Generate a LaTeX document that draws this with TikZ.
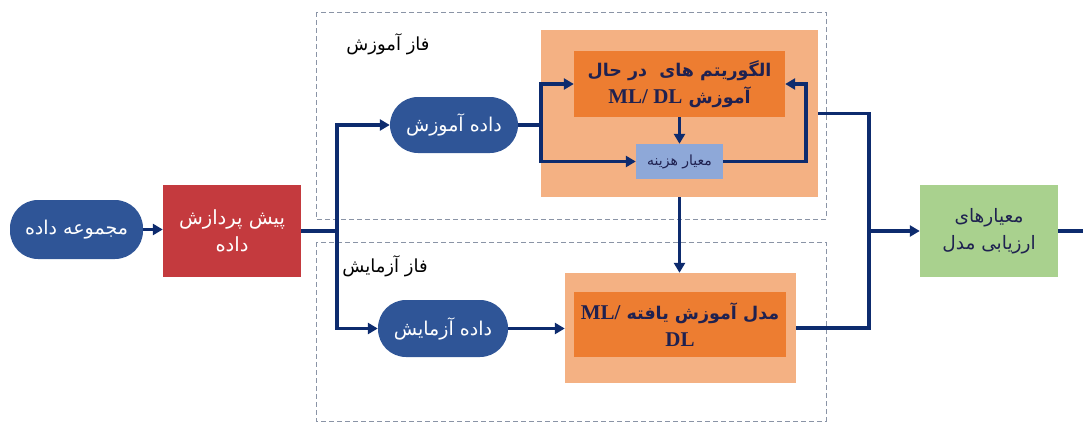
\documentclass[tikz,border=0pt]{standalone}
\usepackage{fontspec}
\usetikzlibrary{arrows.meta,calc}
\newfontfamily\fa[Script=Arabic]{DejaVu Sans}
\newfontfamily\ser{Liberation Serif}
\TeXXeTstate=1
\newcommand{\myR}[1]{\beginR #1\endR}
\newcommand{\myL}[1]{\beginL #1\endL}
\definecolor{navy}{HTML}{0D2B6E}
\definecolor{pillblue}{HTML}{2F5597}
\definecolor{boxred}{HTML}{C43A3E}
\definecolor{lorange}{HTML}{F4B183}
\definecolor{dorange}{HTML}{ED7D31}
\definecolor{costblue}{HTML}{8EA8D8}
\definecolor{boxgreen}{HTML}{A9D18E}
\definecolor{txtnavy}{HTML}{1F2150}
\definecolor{dashgray}{HTML}{8A94A6}
\tikzset{
  pill/.style={fill=pillblue, text=white, rounded corners=28pt, inner sep=0pt, align=center,
    font=\fa\fontsize{19}{22}\selectfont},
  plainbox/.style={inner sep=0pt, align=center},
  conn/.style={draw=navy, line width=3.3pt},
  arr/.style={conn, -{Triangle[length=10pt,width=11pt]}},
  darr/.style={conn, {Triangle[length=10pt,width=11pt]}-{Triangle[length=10pt,width=11pt]}},
  phase/.style={draw=dashgray, line width=0.9pt, dash pattern=on 5pt off 3pt},
  phaselabel/.style={font=\fa\fontsize{18}{20}\selectfont, text=black},
}
\begin{document}
\begin{tikzpicture}[x=1pt,y=-1pt]
\useasboundingbox (0,0) rectangle (1083,423);
% phase boxes
\draw[phase] (316,12) rectangle (826,219);
\draw[phase] (316,242) rectangle (826,421);
\node[phaselabel] (lblTrain) at (388,44) {\myR{فاز آموزش}};
\node[phaselabel] (lblTest) at (385,266) {\myR{فاز آزمایش}};

% nodes
\node[pill, minimum width=133pt, minimum height=59pt] (data) at (76.5,229.5) {\myR{مجموعه داده}};
\node[plainbox, fill=boxred, text=white, minimum width=138pt, minimum height=92pt,
  font=\fa\fontsize{19.5}{27}\selectfont] (pre) at (232,231) {\myR{پیش پردازش}\\\myR{داده}};
\node[pill, minimum width=128pt, minimum height=56pt] (train) at (454,125) {\myR{داده آموزش}};
\node[pill, minimum width=130pt, minimum height=57pt] (test) at (443,328.5) {\myR{داده آزمایش}};

\node[plainbox, fill=lorange, minimum width=277pt, minimum height=167pt] (bigTop) at (679.5,113.5) {};
\node[plainbox, fill=dorange, text=txtnavy, minimum width=211pt, minimum height=66pt,
  font=\fa\bfseries\fontsize{17.5}{27}\selectfont] (alg) at (679.5,84)
  {\myR{الگوریتم های\ \ در حال}\\\myR{آموزش \myL{\ser\bfseries\fontsize{21}{27}\selectfont ML/ DL}}};
\node[plainbox, fill=costblue, text=txtnavy, minimum width=87pt, minimum height=35pt,
  font=\fa\fontsize{14}{16}\selectfont] (cost) at (679.5,161.5) {\myR{معیار هزینه}};

\node[plainbox, fill=lorange, minimum width=231pt, minimum height=110pt] (bigBot) at (680.5,328) {};
\node[plainbox, fill=dorange, text=txtnavy, minimum width=212pt, minimum height=65pt,
  font=\fa\bfseries\fontsize{17.5}{27}\selectfont] (model) at (680,324.5)
  {\myR{مدل آموزش یافته \myL{\ser\bfseries\fontsize{21}{27}\selectfont ML/}}\\{\ser\bfseries\fontsize{21}{27}\selectfont DL}};

\node[plainbox, fill=boxgreen, text=txtnavy, minimum width=138pt, minimum height=92pt,
  font=\fa\fontsize{18.5}{27}\selectfont] (eval) at (989,231) {\myR{معیارهای}\\\myR{ارزیابی مدل}};

% junction coordinates
\coordinate (j1) at (337,231);
\coordinate (j2) at (541,125);
\coordinate (j3) at (806,161.5);
\coordinate (j4) at (869,113.5);
\coordinate (j5) at (869,328);
\coordinate (j6) at (869,231);
\coordinate (outEnd) at (1083,231);

% connectors
\draw[arr] (data.east) -- (pre.west |- data.east);
\draw[conn] (pre.east |- j1) -- (j1);
\draw[darr] (train.west) -- (j1 |- train.west) -- (j1 |- test.west) -- (test.west);

\draw[conn] (train.east) -- (j2);
\draw[darr] (alg.west) -- (j2 |- alg.west) -- (j2 |- cost.west) -- (cost.west);
\draw[arr] (alg.south) -- (cost.north);
\draw[arr] (cost.east) -- (j3) -- (j3 |- alg.east) -- (alg.east);

\draw[arr] (bigTop.south) -- (bigTop.south |- bigBot.north);
\draw[arr] (test.east) -- (bigBot.west |- test.east);

\draw[conn] (bigTop.east) -- (j4) -- (j5) -- (bigBot.east);
\draw[arr] (j6) -- (eval.west);
\draw[conn] (eval.east) -- (outEnd);
\end{tikzpicture}
\end{document}
